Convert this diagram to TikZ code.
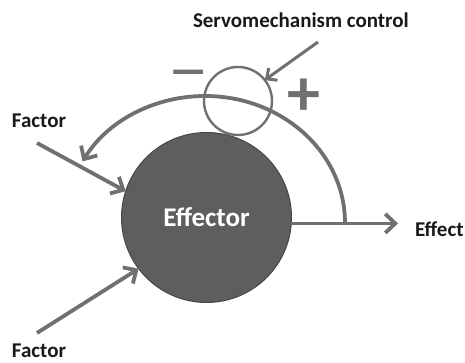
\documentclass[tikz,border=0pt]{standalone}
\usepackage{fontspec}
\setmainfont{Carlito}
\usetikzlibrary{arrows.meta, positioning}

\begin{document}
\begin{tikzpicture}[
				x = 1pt, y = 1pt,
				every node/.style = {inner sep=0pt, outer sep=0pt, text=black!90, font=\bfseries\fontsize{21}{21}\selectfont},
				link/.style = {draw=black!56, line width=3.8pt, -{Straight Barb[length=10pt, width=19pt]}},
				sign/.style = {text=black!56, font=\bfseries\fontsize{66}{66}\selectfont}
			]
				\useasboundingbox (0,0) rectangle (465,363);
				%
				\node (eff)   [circle, fill=black!63, draw=black!72, line width=1pt, minimum size=170pt,
				               text=white, font=\bfseries\fontsize{27}{27}\selectfont] at (206.5,145.5) {Effector};
				\node (servo) [circle, draw=black!56, line width=2.4pt, minimum size=68pt] at (238,262) {};
				%
				\node (lservo)  [anchor=base west] at (193,335) {Servomechanism control};
				\node (lminus)  [sign, font=\bfseries\fontsize{48}{48}\selectfont, xscale=1.6, transform shape] at (189,284) {−};
				\node (lplus)   [sign, right=15pt of servo.east, yshift=4pt] {+};
				\node (lfac1)   [anchor=base west] at (12,235) {Factor};
				\node (lfac2)   [anchor=base west] at (12,5)   {Factor};
				\node (leffect) [anchor=base west] at (415,126) {Effect};
				%
				\coordinate (f1) at (37,220);
				\coordinate (f2) at (37,30);
				\coordinate (sv) at (318,321);
				\coordinate (fb) at (345,140);

				\draw[link] (f1) -- (eff.162);
				\draw[link] (f2) -- (eff.217);
				\draw[link, shorten >=17pt] (eff.-4) -- (eff.-4 -| leffect.west);
				\draw[link, line width=3pt, -{Straight Barb[length=8pt, width=15pt]}] (sv) -- (servo.38);
				\draw[link] (fb) arc[start angle=0, end angle=151, x radius=140, y radius=127];

			\end{tikzpicture}
\end{document}
